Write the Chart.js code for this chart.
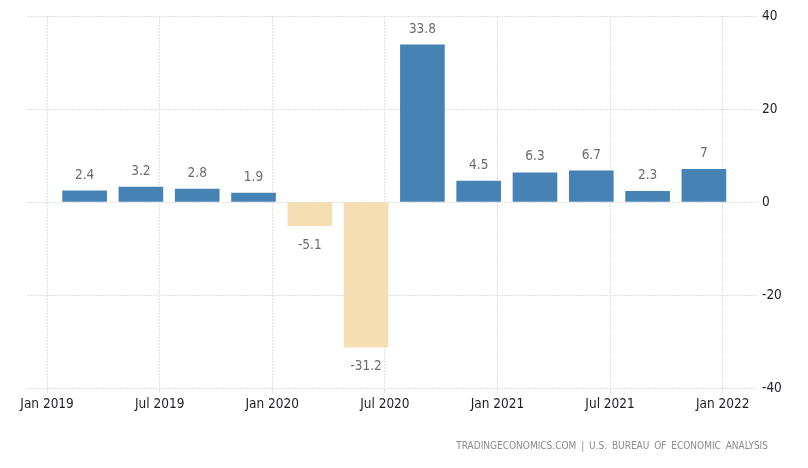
<!DOCTYPE html>
<html>
<head>
<meta charset="utf-8">
<script src="https://cdn.jsdelivr.net/npm/chart.js@4/dist/chart.umd.min.js"></script>
<style>
  body { margin: 0; background: #fff; }
  #wrap { position: relative; width: 808px; height: 468px; }
  #source {
    position: absolute; right: 40px; top: 440px;
    font: 10px "DejaVu Sans Condensed", sans-serif;
    color: #8a8a8a; word-spacing: 2px;
    white-space: nowrap;
  }
</style>
</head>
<body>
<div id="wrap">
  <canvas id="gdpChart" width="808" height="468"></canvas>
  <div id="source">TRADINGECONOMICS.COM | U.S. BUREAU OF ECONOMIC ANALYSIS</div>
</div>
<script>
// quarterly GDP growth, annualized (Q1 2019 .. Q4 2021)
// position = months after Jan 2019 (bar centred on last month of the quarter)
const quarterMonths = [2, 5, 8, 11, 14, 17, 20, 23, 26, 29, 32, 35];
const growthValues = [2.4, 3.2, 2.8, 1.9, -5.1, -31.2, 33.8, 4.5, 6.3, 6.7, 2.3, 7];
const xTickMonths = [0, 6, 12, 18, 24, 30, 36];
const xTickLabels = ['Jan 2019', 'Jul 2019', 'Jan 2020', 'Jul 2020', 'Jan 2021', 'Jul 2021', 'Jan 2022'];
const yTickValues = [-40, -20, 0, 20, 40];

const BLUE = '#4682b4';
const SAND = '#f4deb2';
const GRID = '#e0e0e0';
const FONT = '"DejaVu Sans Condensed", sans-serif';

// draws the value over (or under) each bar
const valueLabels = {
    id: 'valueLabels',
    afterDatasetsDraw(chart) {
        const ctx = chart.ctx;
        const meta = chart.getDatasetMeta(0);
        ctx.save();
        ctx.font = '13.5px ' + FONT;
        ctx.fillStyle = '#6b6b6b';
        ctx.textAlign = 'center';
        meta.data.forEach((bar, i) => {
            const v = growthValues[i];
            if (v >= 0) {
                ctx.textBaseline = 'bottom';
                ctx.fillText(String(v), bar.x, bar.y - 9);
            } else {
                ctx.textBaseline = 'top';
                ctx.fillText(String(v), bar.x, bar.y + 13);
            }
        });
        ctx.restore();
    }
};

new Chart(document.getElementById('gdpChart'), {
    type: 'bar',
    data: {
        datasets: [{
            data: quarterMonths.map((m, i) => ({ x: m, y: growthValues[i] })),
            backgroundColor: growthValues.map(v => v >= 0 ? BLUE : SAND),
            barThickness: 44,
            borderWidth: 0
        }]
    },
    options: {
        responsive: false,
        animation: false,
        layout: { padding: { left: 27, top: 16, right: 0, bottom: 0 } },
        plugins: { legend: { display: false }, tooltip: { enabled: false } },
        scales: {
            x: {
                type: 'linear',
                position: 'bottom',
                offset: false,
                min: -1.07,
                max: 37.83,
                afterBuildTicks: axis => { axis.ticks = xTickMonths.map(v => ({ value: v })); },
                afterFit: axis => { axis.height = 80; },
                grid: { color: GRID, tickLength: 5, offset: false },
                border: { display: false, dash: [2, 1] },
                ticks: {
                    padding: 3,
                    maxRotation: 0,
                    autoSkip: false,
                    color: '#1c1c28',
                    font: { family: FONT, size: 13.5 },
                    callback: v => xTickLabels[xTickMonths.indexOf(v)]
                }
            },
            y: {
                position: 'right',
                min: -40,
                max: 40,
                afterBuildTicks: axis => { axis.ticks = yTickValues.map(v => ({ value: v })); },
                afterFit: axis => { axis.width = 51; },
                grid: { color: GRID, drawTicks: false },
                border: { display: false, dash: [2, 1] },
                ticks: {
                    padding: 5,
                    color: '#1c1c28',
                    font: { family: FONT, size: 13.5 }
                }
            }
        }
    },
    plugins: [valueLabels]
});
</script>
</body>
</html>
